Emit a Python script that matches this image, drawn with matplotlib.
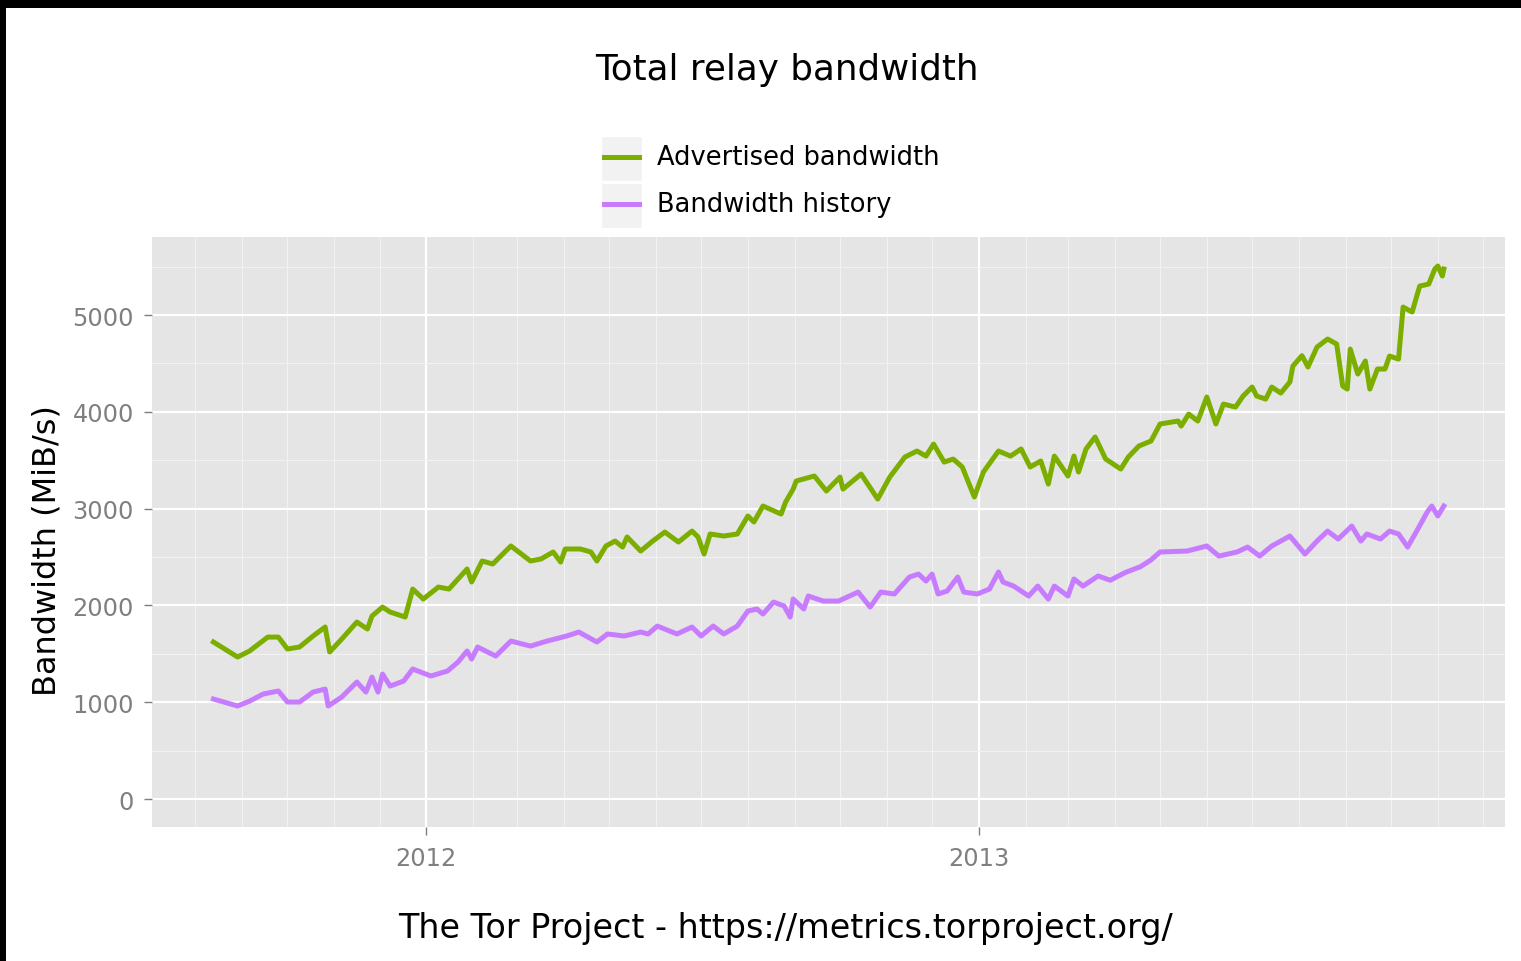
import matplotlib
matplotlib.use("Agg")
from matplotlib import pyplot as plt
import matplotlib.dates as mdates
from matplotlib.patches import Rectangle
from matplotlib.lines import Line2D
import pandas as pd

# advertised bandwidth (MiB/s)
adv_dates = [
    "2011-08-13", "2011-08-29", "2011-09-06", "2011-09-18", "2011-09-25", "2011-10-01",
    "2011-10-09", "2011-10-18", "2011-10-26", "2011-10-29", "2011-11-06", "2011-11-16",
    "2011-11-23", "2011-11-26", "2011-12-03", "2011-12-08", "2011-12-18", "2011-12-23",
    "2011-12-30", "2012-01-09", "2012-01-16", "2012-01-28", "2012-01-31", "2012-02-07",
    "2012-02-14", "2012-02-26", "2012-03-10", "2012-03-17", "2012-03-25", "2012-03-30",
    "2012-04-02", "2012-04-12", "2012-04-19", "2012-04-23", "2012-04-29", "2012-05-05",
    "2012-05-10", "2012-05-13", "2012-05-22", "2012-05-30", "2012-06-07", "2012-06-16",
    "2012-06-25", "2012-06-29", "2012-07-03", "2012-07-07", "2012-07-16", "2012-07-25",
    "2012-08-01", "2012-08-05", "2012-08-11", "2012-08-23", "2012-08-26", "2012-08-31",
    "2012-09-02", "2012-09-14", "2012-09-22", "2012-10-01", "2012-10-03", "2012-10-15",
    "2012-10-26", "2012-11-03", "2012-11-13", "2012-11-21", "2012-11-27", "2012-12-02",
    "2012-12-09", "2012-12-15", "2012-12-21", "2012-12-29", "2013-01-04", "2013-01-14",
    "2013-01-22", "2013-01-29", "2013-02-04", "2013-02-11", "2013-02-16", "2013-02-20",
    "2013-03-01", "2013-03-05", "2013-03-08", "2013-03-13", "2013-03-19", "2013-03-26",
    "2013-04-05", "2013-04-10", "2013-04-17", "2013-04-25", "2013-05-01", "2013-05-13",
    "2013-05-15", "2013-05-20", "2013-05-26", "2013-06-01", "2013-06-07", "2013-06-12",
    "2013-06-20", "2013-06-25", "2013-07-01", "2013-07-04", "2013-07-10", "2013-07-14",
    "2013-07-20", "2013-07-26", "2013-07-28", "2013-08-03", "2013-08-07", "2013-08-13",
    "2013-08-20", "2013-08-26", "2013-08-30", "2013-09-02", "2013-09-04", "2013-09-09",
    "2013-09-14", "2013-09-17", "2013-09-22", "2013-09-27", "2013-09-30", "2013-10-06",
    "2013-10-09", "2013-10-15", "2013-10-20", "2013-10-26", "2013-10-30", "2013-11-01",
    "2013-11-04", "2013-11-05",
]
adv_values = [
    1622, 1467, 1530, 1673, 1673, 1550,
    1570, 1684, 1777, 1519, 1653, 1828,
    1756, 1890, 1983, 1932, 1880, 2169,
    2066, 2190, 2169, 2376, 2242, 2459,
    2428, 2614, 2459, 2480, 2552, 2448,
    2583, 2583, 2552, 2459, 2614, 2665,
    2603, 2707, 2562, 2665, 2758, 2655,
    2768, 2707, 2531, 2738, 2717, 2738,
    2924, 2862, 3027, 2944, 3068, 3202,
    3285, 3337, 3182, 3326, 3202, 3357,
    3099, 3326, 3533, 3595, 3543, 3667,
    3481, 3512, 3430, 3120, 3378, 3595,
    3543, 3616, 3430, 3492, 3254, 3543,
    3337, 3543, 3378, 3616, 3740, 3512,
    3409, 3533, 3647, 3698, 3874, 3905,
    3853, 3977, 3905, 4153, 3874, 4080,
    4049, 4163, 4256, 4163, 4132, 4256,
    4194, 4308, 4473, 4580, 4463, 4669,
    4752, 4700, 4266, 4235, 4648, 4390,
    4525, 4235, 4442, 4442, 4576, 4545,
    5082, 5031, 5299, 5320, 5475, 5506,
    5403, 5475,
]

# bandwidth history (MiB/s)
hist_dates = [
    "2011-08-13", "2011-08-29", "2011-09-06", "2011-09-15", "2011-09-25", "2011-10-01",
    "2011-10-09", "2011-10-18", "2011-10-26", "2011-10-28", "2011-11-06", "2011-11-16",
    "2011-11-22", "2011-11-26", "2011-11-30", "2011-12-03", "2011-12-08", "2011-12-17",
    "2011-12-23", "2012-01-04", "2012-01-15", "2012-01-22", "2012-01-28", "2012-01-31",
    "2012-02-04", "2012-02-16", "2012-02-26", "2012-03-10", "2012-03-21", "2012-04-03",
    "2012-04-11", "2012-04-23", "2012-04-30", "2012-05-11", "2012-05-22", "2012-05-27",
    "2012-06-02", "2012-06-15", "2012-06-25", "2012-07-01", "2012-07-09", "2012-07-16",
    "2012-07-25", "2012-08-01", "2012-08-07", "2012-08-11", "2012-08-18", "2012-08-25",
    "2012-08-29", "2012-08-31", "2012-09-07", "2012-09-10", "2012-09-20", "2012-09-30",
    "2012-10-13", "2012-10-21", "2012-10-28", "2012-11-06", "2012-11-16", "2012-11-22",
    "2012-11-27", "2012-12-01", "2012-12-05", "2012-12-11", "2012-12-18", "2012-12-22",
    "2012-12-31", "2013-01-08", "2013-01-14", "2013-01-17", "2013-01-24", "2013-02-03",
    "2013-02-09", "2013-02-16", "2013-02-20", "2013-03-01", "2013-03-05", "2013-03-11",
    "2013-03-18", "2013-03-21", "2013-03-29", "2013-04-08", "2013-04-18", "2013-04-25",
    "2013-05-01", "2013-05-19", "2013-06-01", "2013-06-09", "2013-06-21", "2013-06-28",
    "2013-07-06", "2013-07-14", "2013-07-26", "2013-08-05", "2013-08-13", "2013-08-20",
    "2013-08-27", "2013-09-05", "2013-09-11", "2013-09-15", "2013-09-24", "2013-09-30",
    "2013-10-06", "2013-10-12", "2013-10-18", "2013-10-25", "2013-10-28", "2013-11-01",
    "2013-11-05",
]
hist_values = [
    1033, 961, 1012, 1085, 1116, 1002,
    1002, 1105, 1136, 961, 1054, 1209,
    1105, 1260, 1105, 1291, 1167, 1219,
    1343, 1271, 1322, 1415, 1529, 1446,
    1570, 1477, 1632, 1580, 1632, 1684,
    1725, 1622, 1705, 1684, 1725, 1705,
    1787, 1705, 1777, 1684, 1787, 1705,
    1787, 1942, 1963, 1911, 2035, 1994,
    1880, 2066, 1963, 2097, 2045, 2045,
    2138, 1983, 2138, 2118, 2293, 2324,
    2252, 2324, 2118, 2149, 2293, 2138,
    2118, 2169, 2345, 2242, 2200, 2097,
    2200, 2066, 2200, 2097, 2273, 2200,
    2273, 2304, 2260, 2340, 2400, 2470,
    2552, 2562, 2614, 2510, 2552, 2603,
    2510, 2614, 2717, 2531, 2665, 2768,
    2686, 2820, 2665, 2738, 2686, 2768,
    2738, 2603, 2768, 2965, 3027, 2924,
    3027,
]

y_ticks = [0, 1000, 2000, 3000, 4000, 5000]

GREEN = "#7CAE00"
PURPLE = "#C77CFF"
W, H = 1521, 962


def fx(px):
    return px / W


def fy(py):
    return 1 - py / H


fig = plt.figure(figsize=(W / 100, H / 100), dpi=100)
fig.patch.set_facecolor("white")

ax = fig.add_axes([fx(152), fy(828), fx(1505) - fx(152), fy(238) - fy(828)])
ax.set_facecolor("#E5E5E5")
for s in ax.spines.values():
    s.set_visible(False)

adv_x = pd.to_datetime(adv_dates)
hist_x = pd.to_datetime(hist_dates)
ax.plot(adv_x, adv_values, color=GREEN, lw=3.6, solid_joinstyle="round", zorder=3)
ax.plot(hist_x, hist_values, color=PURPLE, lw=3.6, solid_joinstyle="round", zorder=3)

x0 = pd.Timestamp("2012-01-01") - pd.Timedelta(days=181.7)
x1 = pd.Timestamp("2013-01-01") + pd.Timedelta(days=348.5)
ax.set_xlim(x0, x1)
ax.set_ylim(-289, 5806)

ax.set_yticks(y_ticks)
ax.set_yticks([v + 500 for v in y_ticks], minor=True)
ax.xaxis.set_major_locator(mdates.YearLocator())
ax.xaxis.set_major_formatter(mdates.DateFormatter("%Y"))
ax.xaxis.set_minor_locator(mdates.MonthLocator())

ax.grid(which="major", color="white", lw=1.6, zorder=0)
ax.grid(which="minor", color="#F2F2F2", lw=0.8, zorder=0)
ax.set_axisbelow(True)

ax.tick_params(which="major", length=5.5, width=1, color="#7F7F7F",
               labelcolor="#7F7F7F", labelsize=17.3)
ax.tick_params(axis="y", which="major", pad=7.5)
ax.tick_params(axis="x", which="major", pad=8.5)
ax.tick_params(which="minor", length=0)

fig.text(fx(47), fy(551), "Bandwidth (MiB/s)", rotation=90, ha="center",
         va="center", fontsize=23, color="black")

fig.text(fx(787), fy(70), "Total relay bandwidth", ha="center", va="center",
         fontsize=25.7, color="black")
fig.text(fx(786), fy(929), "The Tor Project - https://metrics.torproject.org/",
         ha="center", va="center", fontsize=24, color="black")

# legend, drawn in figure pixel space
names = ["Advertised bandwidth", "Bandwidth history"]
for i, (name, col) in enumerate(zip(names, [GREEN, PURPLE])):
    top = 137 + i * 47
    fig.add_artist(Rectangle((fx(601), fy(top + 45)), fx(41), fy(top) - fy(top + 45),
                             transform=fig.transFigure, facecolor="#F2F2F2",
                             edgecolor="white", lw=1))
    fig.add_artist(Line2D([fx(604), fx(639)], [fy(top + 21)] * 2,
                          transform=fig.transFigure, color=col, lw=3.6))
    fig.text(fx(657), fy(top + 21), name, ha="left", va="center",
             fontsize=18.5, color="black")

# black screenshot border on top and left
fig.add_artist(Rectangle((0, fy(9)), 1, 1 - fy(9), transform=fig.transFigure,
                         facecolor="black", edgecolor="none"))
fig.add_artist(Rectangle((0, 0), fx(6), 1, transform=fig.transFigure,
                         facecolor="black", edgecolor="none"))

fig.savefig("out.png", dpi=100)
